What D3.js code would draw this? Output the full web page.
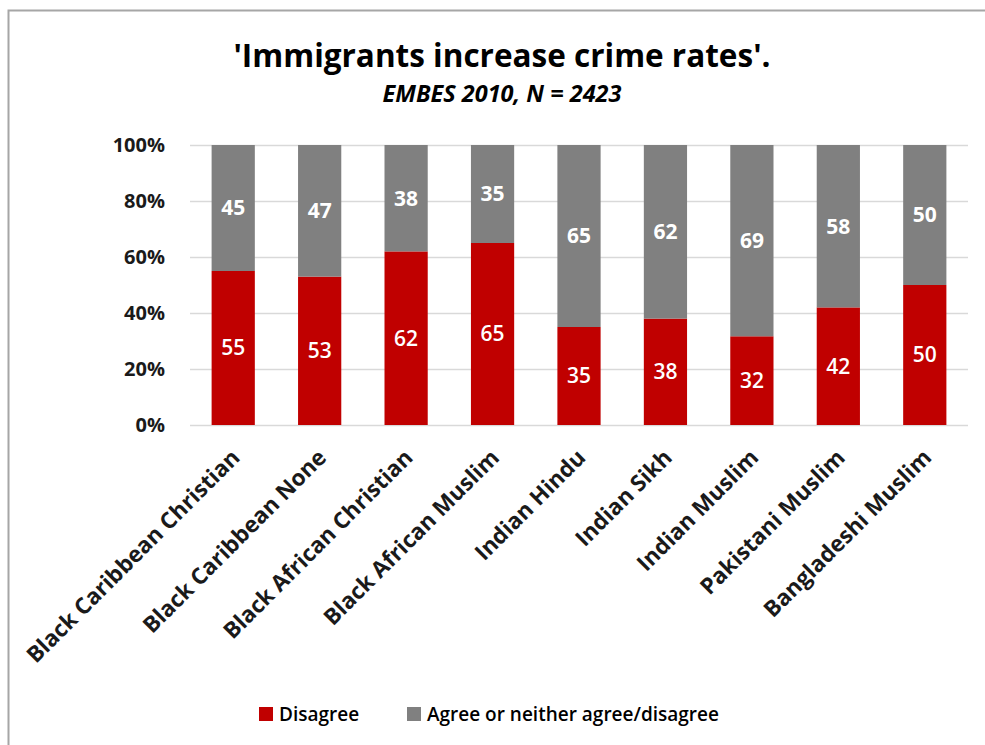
<!DOCTYPE html>
<html>
<head>
<meta charset="utf-8">
<script src="https://cdn.jsdelivr.net/npm/d3@7"></script>
<style>
  html, body { margin: 0; padding: 0; background: #fff; }
  svg { display: block; }
  text { font-family: "Open Sans", "Liberation Sans", sans-serif; }
</style>
</head>
<body>
<svg id="chart" width="985" height="745"></svg>
<script>
// Survey groups and responses (percent of respondents)
const groups = [
  "Black Caribbean Christian", "Black Caribbean None", "Black African Christian",
  "Black African Muslim", "Indian Hindu", "Indian Sikh", "Indian Muslim",
  "Pakistani Muslim", "Bangladeshi Muslim"
];
const disagree = [55, 53, 62, 65, 35, 38, 32, 42, 50];
const agreeOrNeither = [45, 47, 38, 35, 65, 62, 69, 58, 50];
const seriesNames = ["Disagree", "Agree or neither agree/disagree"];
const yTicks = [0, 0.2, 0.4, 0.6, 0.8, 1.0];

const colors = ["#C00000", "#808080"];

const svg = d3.select("#chart");
const W = 985, H = 745;
const margin = { left: 190, right: 17, top: 145, bottom: 320 };

// chart frame
svg.append("rect")
  .attr("x", 8.5).attr("y", 10.5)
  .attr("width", W + 20).attr("height", H + 20)
  .attr("fill", "none").attr("stroke", "#a6a6a6").attr("stroke-width", 2);

// rows normalised to 100% per group
const rows = groups.map((g, i) => {
  const total = disagree[i] + agreeOrNeither[i];
  return { group: g, d: disagree[i], a: agreeOrNeither[i], dn: disagree[i] / total, an: agreeOrNeither[i] / total };
});
const stack = d3.stack().keys(["dn", "an"])(rows);

const x = d3.scaleBand().domain(groups).range([margin.left, W - margin.right]).paddingInner(0.5).paddingOuter(0.25);
const y = d3.scaleLinear().domain([0, 1]).range([H - margin.bottom, margin.top]);

// gridlines
svg.append("g")
  .selectAll("line").data(yTicks).join("line")
  .attr("x1", margin.left).attr("x2", W - margin.right)
  .attr("y1", d => Math.round(y(d)) + 0.5).attr("y2", d => Math.round(y(d)) + 0.5)
  .attr("stroke", "#d9d9d9").attr("stroke-width", 1.5);

// y axis labels
const yAxis = d3.axisLeft(y).tickValues(yTicks).tickFormat(d3.format(".0%")).tickSize(0).tickPadding(25);
const yg = svg.append("g").attr("transform", `translate(${margin.left},0)`).call(yAxis);
yg.select(".domain").remove();
yg.selectAll("text").attr("font-size", 20).attr("font-weight", 700).attr("fill", "#1a1a1a")
  .attr("font-family", "'Open Sans', sans-serif");

// bars
const layers = svg.append("g").selectAll("g").data(stack).join("g")
  .attr("fill", (d, i) => colors[i]);
layers.selectAll("rect").data(d => d).join("rect")
  .attr("x", d => x(d.data.group))
  .attr("width", x.bandwidth())
  .attr("y", d => y(d[1]))
  .attr("height", d => y(d[0]) - y(d[1]));

// value labels
const valueKeys = ["d", "a"];
stack.forEach((layer, li) => {
  svg.append("g").selectAll("text").data(layer).join("text")
    .attr("x", d => x(d.data.group) + x.bandwidth() / 2)
    .attr("y", d => (y(d[0]) + y(d[1])) / 2)
    .attr("dy", "0.35em")
    .attr("text-anchor", "middle")
    .attr("fill", "#fff")
    .attr("font-size", 21)
    .attr("font-weight", li === 1 ? 700 : 600)
    .text(d => d.data[valueKeys[li]]);
});

// x axis labels
const xg = svg.append("g").attr("transform", `translate(0,${H - margin.bottom})`)
  .call(d3.axisBottom(x).tickSize(0).tickPadding(0));
xg.select(".domain").remove();
xg.selectAll("text")
  .attr("font-size", 22.5).attr("font-weight", 700).attr("fill", "#1a1a1a")
  .attr("font-family", "'Open Sans', sans-serif")
  .attr("text-anchor", "end")
  .attr("dy", 0).attr("y", 0)
  .attr("transform", "translate(8,34) rotate(-45)");

// title
svg.append("text").attr("x", 502).attr("y", 67).attr("text-anchor", "middle")
  .attr("font-size", 31.5).attr("font-weight", 700).attr("fill", "#000")
  .text("'Immigrants increase crime rates'.");
svg.append("text").attr("x", 502).attr("y", 102).attr("text-anchor", "middle")
  .attr("font-size", 23.5).attr("font-weight", 700).attr("font-style", "italic").attr("fill", "#000")
  .text("EMBES 2010, N = 2423");

// legend
const legendX = [259, 407];
const lg = svg.append("g").selectAll("g").data(seriesNames).join("g")
  .attr("transform", (d, i) => `translate(${legendX[i]},707)`);
lg.append("rect").attr("width", 14).attr("height", 14).attr("fill", (d, i) => colors[i]);
lg.append("text").attr("x", 20).attr("y", 7).attr("dy", "0.35em")
  .attr("font-size", 19).attr("font-weight", 600).attr("fill", "#000").text(d => d);
</script>
</body>
</html>
